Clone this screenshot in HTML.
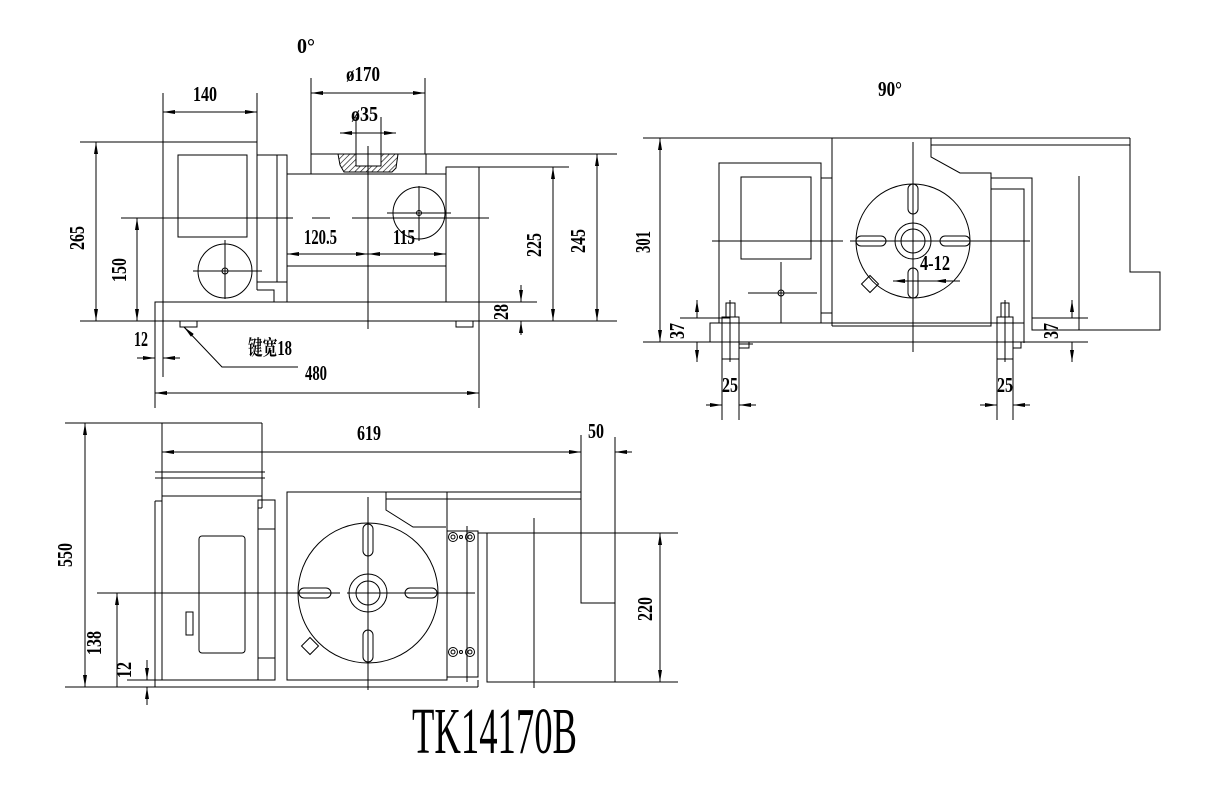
<!DOCTYPE html>
<html><head><meta charset="utf-8"><style>
html,body{margin:0;padding:0;background:#fff;}
svg{display:block;}
text{font-family:"Liberation Serif","Noto Serif CJK SC",serif;font-weight:bold;fill:#000;}
</style></head><body>
<svg width="1206" height="790" viewBox="0 0 1206 790" xmlns="http://www.w3.org/2000/svg">
<defs>
<marker id="a" viewBox="0 0 12 4" refX="12" refY="2" markerWidth="12" markerHeight="4" markerUnits="userSpaceOnUse" orient="auto-start-reverse"><path d="M0,0 L12,2 L0,4 z" fill="#000"/></marker>
<pattern id="h" width="4" height="4" patternUnits="userSpaceOnUse" patternTransform="rotate(45)"><line x1="0" y1="0" x2="0" y2="4" stroke="#000" stroke-width="1.2"/></pattern>
</defs>
<g stroke="#000" stroke-width="1" fill="none">
<!-- ===== VIEW 1 ===== -->
<line x1="80" y1="142" x2="257" y2="142"/>
<line x1="163" y1="93" x2="163" y2="377"/>
<line x1="257" y1="93" x2="257" y2="290"/>
<polyline points="257,290 274,290 274,302"/>
<rect x="178" y="155" width="69" height="82"/>
<circle cx="225" cy="271" r="27"/>
<line x1="193" y1="271" x2="262" y2="271"/><line x1="225" y1="240" x2="225" y2="299"/>
<circle cx="225" cy="271" r="3"/>
<rect x="257" y="155" width="30" height="127"/>
<line x1="277" y1="155" x2="277" y2="282"/>
<polyline points="287,302 287,174 446,174 446,302"/>
<line x1="287" y1="266" x2="446" y2="266"/>
<rect x="311" y="154" width="115" height="20"/>
<path d="M338,154 L398,154 L396,168 L392,172 L344,172 L340,165 z" fill="url(#h)" stroke="#000"/>
<rect x="356" y="154" width="25" height="12" fill="#fff"/>
<rect x="446" y="167" width="33" height="135"/>
<line x1="479" y1="167" x2="569" y2="167"/>
<circle cx="419" cy="213" r="26"/>
<line x1="387" y1="213" x2="451" y2="213"/><line x1="419" y1="186" x2="419" y2="241"/>
<circle cx="419" cy="213" r="2.5"/>
<rect x="155" y="302" width="324" height="19"/>
<line x1="479" y1="302" x2="537" y2="302"/>
<line x1="80" y1="321" x2="617" y2="321"/>
<rect x="180" y="321" width="17" height="6"/><rect x="456" y="321" width="17" height="6"/>
<line x1="368" y1="146" x2="368" y2="329"/>
<line x1="121" y1="218" x2="293" y2="218"/><line x1="312" y1="218" x2="330" y2="218"/><line x1="352" y1="218" x2="489" y2="218"/>
<!-- dims view1 -->
<line x1="163" y1="112" x2="257" y2="112" marker-start="url(#a)" marker-end="url(#a)"/>
<line x1="311" y1="78" x2="311" y2="154"/><line x1="425" y1="78" x2="425" y2="154"/>
<line x1="311" y1="93" x2="425" y2="93" marker-start="url(#a)" marker-end="url(#a)"/>
<line x1="356" y1="117" x2="356" y2="154"/><line x1="381" y1="117" x2="381" y2="154"/>
<line x1="340" y1="133" x2="396" y2="133" marker-start="url(#a)" marker-end="url(#a)"/>
<line x1="96" y1="142" x2="96" y2="321" marker-start="url(#a)" marker-end="url(#a)"/>
<line x1="137" y1="218" x2="137" y2="321" marker-start="url(#a)" marker-end="url(#a)"/>
<line x1="553" y1="167" x2="553" y2="321" marker-start="url(#a)" marker-end="url(#a)"/>
<line x1="425" y1="154" x2="617" y2="154"/>
<line x1="597" y1="154" x2="597" y2="321" marker-start="url(#a)" marker-end="url(#a)"/>
<line x1="521" y1="285" x2="521" y2="302" marker-end="url(#a)"/><line x1="521" y1="335" x2="521" y2="321" marker-end="url(#a)"/>
<line x1="368" y1="254" x2="446" y2="254" marker-start="url(#a)" marker-end="url(#a)"/>
<line x1="287" y1="254" x2="368" y2="254" marker-start="url(#a)" marker-end="url(#a)"/>
<line x1="137" y1="358" x2="155" y2="358" marker-end="url(#a)"/><line x1="180" y1="358" x2="163" y2="358" marker-end="url(#a)"/>
<line x1="155" y1="321" x2="155" y2="408"/><line x1="479" y1="321" x2="479" y2="408"/>
<line x1="155" y1="393" x2="479" y2="393" marker-start="url(#a)" marker-end="url(#a)"/>
<polyline points="298,367 222,367 184,327" /><line x1="190" y1="333" x2="184" y2="327" marker-end="url(#a)"/>
<!-- ===== VIEW 2 ===== -->
<line x1="643" y1="138" x2="1130" y2="138"/>
<line x1="660" y1="138" x2="660" y2="342" marker-start="url(#a)" marker-end="url(#a)"/>
<line x1="643" y1="342" x2="1088" y2="342"/>
<rect x="719" y="163" width="102" height="160"/>
<rect x="741" y="177" width="70" height="82"/>
<line x1="781" y1="262" x2="781" y2="323"/><line x1="748" y1="293" x2="817" y2="293"/><circle cx="781" cy="293" r="3"/>
<rect x="821" y="178" width="11" height="135"/>
<line x1="832" y1="138" x2="832" y2="326"/>
<polyline points="832,326 991,326 991,173 960,173 931,157 931,138"/>
<line x1="931" y1="145" x2="1130" y2="145"/>
<polyline points="1130,138 1130,272 1160,272 1160,330 1032,330 1032,178 991,178"/>
<polyline points="991,189 1024,189 1024,343"/>
<line x1="1079" y1="176" x2="1079" y2="330"/>
<circle cx="913" cy="241" r="57"/>
<circle cx="913" cy="241" r="18"/><circle cx="913" cy="241" r="12"/>
<rect x="908" y="184" width="10" height="30" rx="5"/>
<rect x="908" y="268" width="10" height="30" rx="5"/>
<rect x="856" y="236" width="30" height="10" rx="5"/>
<rect x="940" y="236" width="30" height="10" rx="5"/>
<line x1="913" y1="142" x2="913" y2="352"/>
<line x1="712" y1="241" x2="843" y2="241"/><line x1="850" y1="241" x2="1030" y2="241"/>
<rect x="864" y="278" width="12" height="12" transform="rotate(45 870 284)"/>
<line x1="893" y1="281" x2="960" y2="281"/>
<line x1="893" y1="281" x2="912" y2="281" marker-start="url(#a)"/><line x1="935" y1="281" x2="934" y2="281" marker-end="url(#a)"/>
<polyline points="710,342 710,323 1024,323"/>
<line x1="680" y1="318" x2="730" y2="318"/>
<line x1="697" y1="300" x2="697" y2="318" marker-start="url(#a)"/><line x1="697" y1="342" x2="697" y2="362" marker-end="url(#a)"/>
<line x1="1032" y1="318" x2="1088" y2="318"/>
<line x1="1072" y1="300" x2="1072" y2="318" marker-start="url(#a)"/><line x1="1072" y1="342" x2="1072" y2="362" marker-end="url(#a)"/>
<!-- bolts -->
<rect x="722" y="317" width="17" height="42"/><rect x="726" y="303" width="9" height="14"/>
<line x1="730" y1="300" x2="730" y2="362"/><line x1="739" y1="344" x2="753" y2="344"/><rect x="739" y="342" width="10" height="6"/>
<rect x="997" y="317" width="16" height="42"/><rect x="1001" y="303" width="8" height="14"/>
<line x1="1005" y1="300" x2="1005" y2="362"/><rect x="1013" y="342" width="8" height="6"/>
<line x1="722" y1="359" x2="722" y2="420"/><line x1="739" y1="359" x2="739" y2="420"/>
<line x1="997" y1="359" x2="997" y2="420"/><line x1="1013" y1="359" x2="1013" y2="420"/>
<line x1="706" y1="405" x2="722" y2="405" marker-end="url(#a)"/><line x1="756" y1="405" x2="739" y2="405" marker-end="url(#a)"/>
<line x1="980" y1="405" x2="997" y2="405" marker-end="url(#a)"/><line x1="1030" y1="405" x2="1013" y2="405" marker-end="url(#a)"/>
<!-- ===== VIEW 3 ===== -->
<line x1="65" y1="423" x2="262" y2="423"/>
<line x1="85" y1="423" x2="85" y2="687" marker-start="url(#a)" marker-end="url(#a)"/>
<line x1="65" y1="687" x2="478" y2="687"/>
<line x1="162" y1="423" x2="162" y2="680"/>
<line x1="262" y1="423" x2="262" y2="508"/>
<line x1="155" y1="472" x2="265" y2="472"/><line x1="155" y1="478" x2="265" y2="478"/>
<line x1="155" y1="501" x2="155" y2="687"/><line x1="155" y1="501" x2="162" y2="501"/>
<line x1="162" y1="496" x2="262" y2="496"/>
<polyline points="262,508 258,508 258,680"/>
<rect x="199" y="536" width="46" height="117" rx="3"/>
<rect x="186" y="612" width="7" height="23"/>
<rect x="258" y="500" width="17" height="180"/>
<line x1="258" y1="529" x2="275" y2="529"/><line x1="258" y1="658" x2="275" y2="658"/>
<line x1="127" y1="680" x2="275" y2="680"/>
<rect x="287" y="492" width="160" height="188"/>
<polyline points="386,492 386,510 413,527 446,527"/>
<line x1="386" y1="492" x2="581" y2="492"/><line x1="386" y1="499" x2="581" y2="499"/>
<line x1="478" y1="533" x2="487" y2="533"/>
<circle cx="368" cy="593" r="70"/>
<circle cx="368" cy="593" r="19"/><circle cx="368" cy="593" r="12"/>
<rect x="363" y="524" width="10" height="32" rx="5"/>
<rect x="363" y="630" width="10" height="32" rx="5"/>
<rect x="299" y="588" width="32" height="10" rx="5"/>
<rect x="405" y="588" width="32" height="10" rx="5"/>
<line x1="368" y1="497" x2="368" y2="690"/>
<line x1="97" y1="593" x2="340" y2="593"/><line x1="347" y1="593" x2="475" y2="593"/>
<rect x="304" y="640" width="12" height="12" transform="rotate(45 310 646)"/>
<rect x="447" y="531" width="31" height="146"/>
<line x1="467" y1="526" x2="467" y2="682"/>
<circle cx="453" cy="537" r="4.5"/><circle cx="453" cy="537" r="2"/><circle cx="470" cy="537" r="4.5"/><circle cx="470" cy="537" r="2"/><circle cx="461" cy="537" r="1.5"/>
<circle cx="453" cy="652" r="4.5"/><circle cx="453" cy="652" r="2"/><circle cx="470" cy="652" r="4.5"/><circle cx="470" cy="652" r="2"/><circle cx="461" cy="652" r="1.5"/>
<line x1="478" y1="680" x2="478" y2="687"/>
<rect x="487" y="533" width="128" height="149"/>
<line x1="534" y1="518" x2="534" y2="688"/>
<polyline points="581,435 581,603 615,603"/>
<line x1="615" y1="437" x2="615" y2="682"/>
<line x1="487" y1="682" x2="678" y2="682"/><line x1="615" y1="533" x2="678" y2="533"/>
<line x1="660" y1="533" x2="660" y2="682" marker-start="url(#a)" marker-end="url(#a)"/>
<line x1="162" y1="452" x2="581" y2="452" marker-start="url(#a)" marker-end="url(#a)"/>
<line x1="632" y1="452" x2="615" y2="452" marker-end="url(#a)"/>
<line x1="117" y1="593" x2="117" y2="687" marker-start="url(#a)"/>
<line x1="147" y1="660" x2="147" y2="680" marker-end="url(#a)"/><line x1="147" y1="705" x2="147" y2="687" marker-end="url(#a)"/>
</g>
<!-- texts -->
<g font-size="21">
<text x="297" y="53" textLength="18" lengthAdjust="spacingAndGlyphs">0°</text>
<text x="193" y="101" textLength="24" lengthAdjust="spacingAndGlyphs">140</text>
<text x="346" y="81" textLength="34" lengthAdjust="spacingAndGlyphs">ø170</text>
<text x="351" y="121" textLength="27" lengthAdjust="spacingAndGlyphs">ø35</text>
<text x="304" y="244" textLength="33" lengthAdjust="spacingAndGlyphs">120.5</text>
<text x="393" y="244" textLength="22" lengthAdjust="spacingAndGlyphs">115</text>
<text x="248" y="355" textLength="44" lengthAdjust="spacingAndGlyphs">键宽18</text>
<text x="305" y="380" textLength="22" lengthAdjust="spacingAndGlyphs">480</text>
<text x="134" y="346" textLength="14" lengthAdjust="spacingAndGlyphs">12</text>
<text transform="translate(84,250) rotate(-90)" textLength="24" lengthAdjust="spacingAndGlyphs">265</text>
<text transform="translate(126,282) rotate(-90)" textLength="24" lengthAdjust="spacingAndGlyphs">150</text>
<text transform="translate(541,257) rotate(-90)" textLength="24" lengthAdjust="spacingAndGlyphs">225</text>
<text transform="translate(585,253) rotate(-90)" textLength="24" lengthAdjust="spacingAndGlyphs">245</text>
<text transform="translate(508,320) rotate(-90)" textLength="16" lengthAdjust="spacingAndGlyphs">28</text>
<text x="878" y="96" textLength="24" lengthAdjust="spacingAndGlyphs">90°</text>
<text transform="translate(650,253) rotate(-90)" textLength="22" lengthAdjust="spacingAndGlyphs">301</text>
<text x="920" y="270" textLength="30" lengthAdjust="spacingAndGlyphs">4-12</text>
<text transform="translate(684,339) rotate(-90)" textLength="16" lengthAdjust="spacingAndGlyphs">37</text>
<text transform="translate(1058,339) rotate(-90)" textLength="16" lengthAdjust="spacingAndGlyphs">37</text>
<text x="722" y="392" textLength="16" lengthAdjust="spacingAndGlyphs">25</text>
<text x="997" y="392" textLength="16" lengthAdjust="spacingAndGlyphs">25</text>
<text x="357" y="440" textLength="24" lengthAdjust="spacingAndGlyphs">619</text>
<text x="588" y="438" textLength="16" lengthAdjust="spacingAndGlyphs">50</text>
<text transform="translate(72,567) rotate(-90)" textLength="24" lengthAdjust="spacingAndGlyphs">550</text>
<text transform="translate(101,655) rotate(-90)" textLength="24" lengthAdjust="spacingAndGlyphs">138</text>
<text transform="translate(131,678) rotate(-90)" textLength="16" lengthAdjust="spacingAndGlyphs">12</text>
<text transform="translate(652,621) rotate(-90)" textLength="24" lengthAdjust="spacingAndGlyphs">220</text>
</g>
<text x="412" y="753" font-size="66" textLength="165" lengthAdjust="spacingAndGlyphs" style="font-weight:normal">TK14170B</text>
</svg>
</body></html>
